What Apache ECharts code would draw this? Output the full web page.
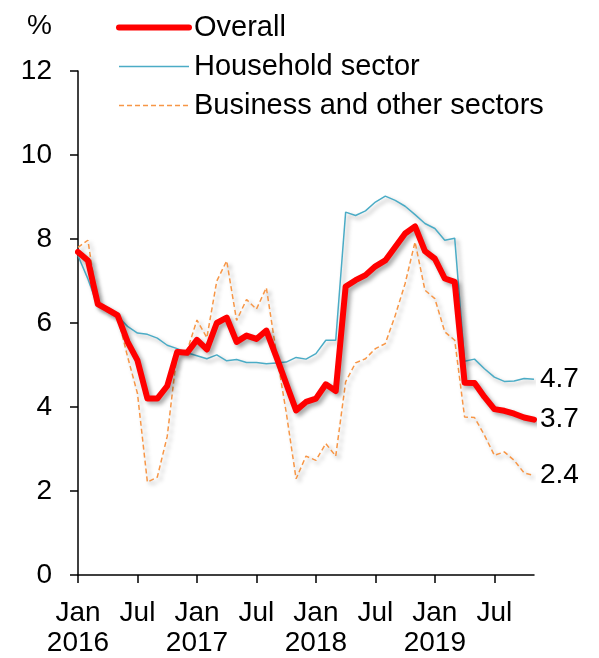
<!DOCTYPE html>
<html>
<head>
<meta charset="utf-8">
<script src="https://cdn.jsdelivr.net/npm/echarts@6/dist/echarts.min.js"></script>
<style>
  html, body { margin: 0; padding: 0; background: #fff; }
  #chart { width: 599px; height: 658px; }
</style>
</head>
<body>
<div id="chart"></div>
<script>
// months Jan 2016 .. Nov 2019
const months = [
  '2016-01','2016-02','2016-03','2016-04','2016-05','2016-06','2016-07','2016-08','2016-09','2016-10','2016-11','2016-12',
  '2017-01','2017-02','2017-03','2017-04','2017-05','2017-06','2017-07','2017-08','2017-09','2017-10','2017-11','2017-12',
  '2018-01','2018-02','2018-03','2018-04','2018-05','2018-06','2018-07','2018-08','2018-09','2018-10','2018-11','2018-12',
  '2019-01','2019-02','2019-03','2019-04','2019-05','2019-06','2019-07','2019-08','2019-09','2019-10','2019-11'
]
const overall = [
  7.69, 7.49, 6.45, 6.32, 6.18, 5.55, 5.11, 4.2, 4.2, 4.5, 5.31, 5.29,
  5.6, 5.37, 6.0, 6.13, 5.55, 5.7, 5.62, 5.82, 5.2, 4.56, 3.92, 4.12,
  4.2, 4.54, 4.38, 6.87, 7.02, 7.14, 7.35, 7.49, 7.81, 8.13, 8.3, 7.71,
  7.53, 7.06, 6.98, 4.58, 4.57, 4.24, 3.95, 3.91, 3.84, 3.75, 3.7
]
const household = [
  7.6, 7.05, 6.4, 6.3, 6.16, 5.92, 5.76, 5.73, 5.64, 5.47, 5.39, 5.29,
  5.22, 5.15, 5.24, 5.1, 5.13, 5.06, 5.06, 5.03, 5.05, 5.07, 5.18, 5.14,
  5.27, 5.59, 5.59, 8.64, 8.56, 8.67, 8.88, 9.02, 8.92, 8.78, 8.58, 8.37,
  8.25, 7.97, 8.02, 5.09, 5.14, 4.91, 4.71, 4.61, 4.62, 4.68, 4.66
]
const business = [
  7.8, 7.97, 6.42, 6.26, 6.16, 5.2, 4.32, 2.21, 2.33, 3.3, 5.3, 5.33,
  6.07, 5.65, 7.0, 7.48, 6.06, 6.56, 6.33, 6.84, 5.3, 3.88, 2.29, 2.83,
  2.73, 3.13, 2.83, 4.6, 5.05, 5.15, 5.39, 5.51, 6.18, 6.94, 7.93, 6.78,
  6.58, 5.79, 5.59, 3.76, 3.75, 3.33, 2.85, 2.93, 2.73, 2.43, 2.37
]
const monthNames = { '01': 'Jan', '07': 'Jul' }

const font = 'Liberation Sans, Arial, sans-serif'
const shadow = {
  shadowColor: 'rgba(0,0,0,0.35)',
  shadowBlur: 4,
  shadowOffsetX: 3,
  shadowOffsetY: 3
}
const endLabel = {
  show: true,
  distance: 6,
  fontFamily: font,
  fontSize: 28,
  color: '#000',
  formatter: (p) => Number(p.value).toFixed(1)
}

const chart = echarts.init(document.getElementById('chart'))
const option = {
  animation: false,
  title: {
    text: '%',
    left: 22,
    top: 7,
    textStyle: { fontFamily: font, fontSize: 28, fontWeight: 'normal', color: '#000' }
  },
  legend: {
    orient: 'vertical',
    left: 111,
    top: 8,
    itemWidth: 70,
    itemHeight: 14,
    itemGap: 10,
    data: ['Overall', 'Household sector', 'Business and other sectors'],
    itemStyle: { opacity: 0 },
    lineStyle: { width: 'inherit', shadowBlur: 0, shadowOffsetX: 0, shadowOffsetY: 0, shadowColor: 'transparent' },
    textStyle: { fontFamily: font, fontSize: 29, color: '#000', lineHeight: 29 }
  },
  grid: {
    left: 78,
    right: 65,
    top: 71,
    bottom: 83
  },
  xAxis: {
    type: 'category',
    data: months,
    boundaryGap: false,
    axisLine: { lineStyle: { color: '#000', width: 1.5 } },
    axisTick: {
      interval: (i) => i % 6 === 0,
      length: 8,
      lineStyle: { color: '#000', width: 1.5 }
    },
    axisLabel: {
      interval: (i) => i % 6 === 0,
      margin: 23,
      fontFamily: font,
      fontSize: 28,
      lineHeight: 30,
      color: '#000',
      formatter: (val) => {
        let [y, m] = val.split('-')
        return m === '01' ? monthNames[m] + '\n' + y : monthNames[m]
      }
    },
    splitLine: { show: false }
  },
  yAxis: {
    type: 'value',
    min: 0,
    max: 12,
    interval: 2,
    axisLine: { show: true, lineStyle: { color: '#000', width: 1.5 } },
    axisTick: { show: true, length: 8, lineStyle: { color: '#000', width: 1.5 } },
    axisLabel: { margin: 26, fontFamily: font, fontSize: 28, color: '#000' },
    splitLine: { show: false }
  },
  series: [
    {
      name: 'Household sector',
      type: 'line',
      data: household,
      symbol: 'none',
      z: 2,
      lineStyle: Object.assign({ color: '#4bacc6', width: 1.5 }, shadow),
      itemStyle: { color: '#4bacc6' },
      endLabel: endLabel,
      emphasis: { disabled: true }
    },
    {
      name: 'Business and other sectors',
      type: 'line',
      data: business,
      symbol: 'none',
      z: 3,
      lineStyle: Object.assign({ color: '#f79646', width: 1.5, type: [5, 3] }, shadow),
      itemStyle: { color: '#f79646' },
      endLabel: endLabel,
      emphasis: { disabled: true }
    },
    {
      name: 'Overall',
      type: 'line',
      data: overall,
      symbol: 'none',
      z: 4,
      lineStyle: Object.assign({ color: '#ff0000', width: 6, cap: 'round', join: 'round' }, shadow),
      itemStyle: { color: '#ff0000' },
      endLabel: endLabel,
      emphasis: { disabled: true }
    }
  ]
}
chart.setOption(option)
</script>
</body>
</html>
